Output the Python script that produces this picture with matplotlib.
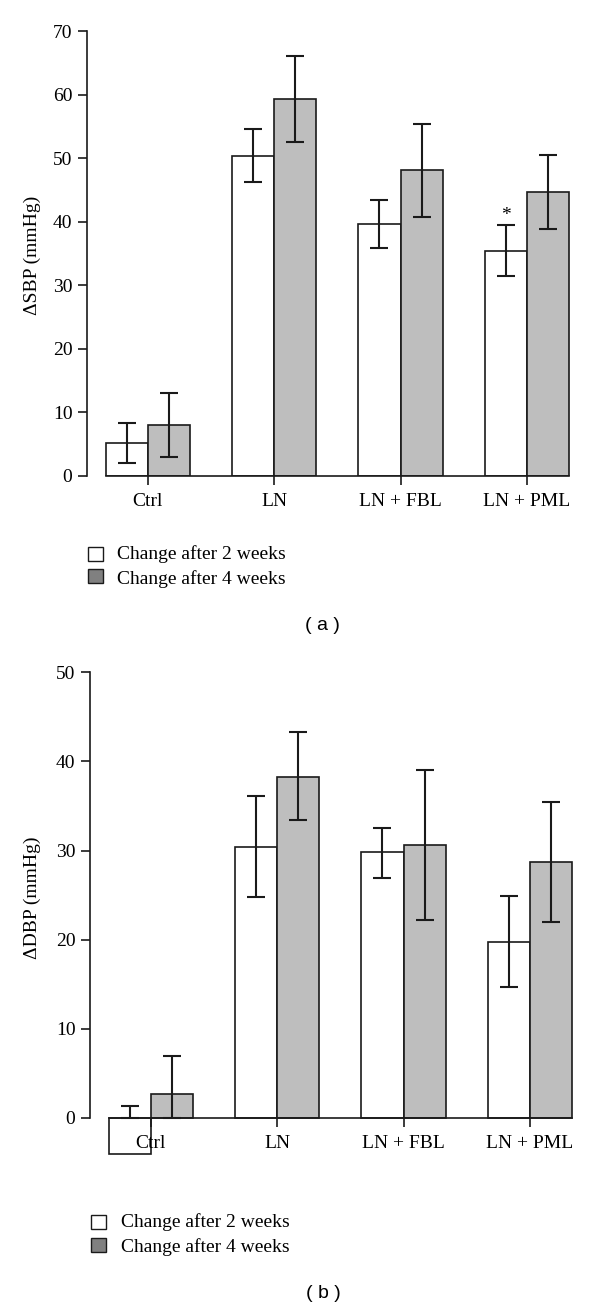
import matplotlib
matplotlib.use("Agg")
import matplotlib.pyplot as plt
from matplotlib.patches import Rectangle
import numpy as np

categories = ["Ctrl", "LN", "LN + FBL", "LN + PML"]
series_labels = ["Change after 2 weeks", "Change after 4 weeks"]

# Panel (a): change in SBP
a_2w = [5.2, 50.4, 39.6, 35.4]
a_2w_hi = [8.3, 54.6, 43.4, 39.5]
a_2w_lo = [2.1, 46.3, 35.8, 31.4]
a_4w = [8.0, 59.3, 48.1, 44.7]
a_4w_hi = [13.1, 66.0, 55.4, 50.5]
a_4w_lo = [3.0, 52.5, 40.8, 38.9]
a_yticks = [0, 10, 20, 30, 40, 50, 60, 70]

# Panel (b): change in DBP
b_2w = [-4.0, 30.4, 29.8, 19.8]
b_2w_hi = [1.3, 36.1, 32.5, 24.9]
b_2w_lo = [0.0, 24.8, 26.9, 14.7]
b_4w = [2.7, 38.3, 30.6, 28.7]
b_4w_hi = [6.9, 43.3, 39.0, 35.4]
b_4w_lo = [0.0, 33.4, 22.2, 22.0]
b_yticks = [0, 10, 20, 30, 40, 50]

SERIF = "Liberation Serif"
SANS = "Liberation Sans"
FS = 14
W, H = 600, 1312
BAR_C = ["white", "#bebebe"]
LEG_C = ["white", "#808080"]
LINE = "#1a1a1a"

fig = plt.figure(figsize=(W / 100, H / 100), dpi=100)
plt.rcParams["font.family"] = SERIF


def panel(rect, vals2, hi2, lo2, vals4, hi4, lo4, yticks, ylim, ylabel, ylab_y):
    ax = fig.add_axes(rect)
    x = np.arange(len(categories))
    w = 1 / 3
    for xs, vals, hi, lo, c in [(x - w / 2, vals2, hi2, lo2, BAR_C[0]),
                                (x + w / 2, vals4, hi4, lo4, BAR_C[1])]:
        ax.bar(xs, vals, width=w, color=c, edgecolor=LINE, linewidth=1.2, zorder=2)
        hi = np.array(hi); lo = np.array(lo)
        ax.errorbar(xs, (hi + lo) / 2, yerr=(hi - lo) / 2, fmt="none",
                    ecolor=LINE, elinewidth=1.5, capsize=6.3, capthick=1.5, zorder=3)
    ax.set_xlim(-0.48, 3.34)
    ax.set_ylim(*ylim)
    for s in ["top", "right"]:
        ax.spines[s].set_visible(False)
    ax.spines["left"].set_bounds(yticks[0], yticks[-1])
    ax.spines["bottom"].set_position(("data", 0))
    ax.spines["bottom"].set_bounds(-1 / 3, 3 + 1 / 3)
    for s in ["left", "bottom"]:
        ax.spines[s].set_linewidth(1.2)
        ax.spines[s].set_color(LINE)
        ax.spines[s].set_zorder(4)
    ax.set_yticks(yticks)
    ax.set_yticklabels([str(t) for t in yticks], fontsize=FS, family=SERIF)
    ax.set_xticks(x)
    ax.set_xticklabels(categories, fontsize=FS, family=SERIF)
    ax.tick_params(axis="y", length=6.5, width=1.2, pad=4, color=LINE)
    ax.tick_params(axis="x", length=6.3, width=1.2, pad=6, color=LINE)
    ax.xaxis.set_zorder(5)
    fig.text(32 / W, ylab_y, ylabel, rotation=90, ha="center", va="center",
             fontsize=FS, family=SERIF)
    ax.patch.set_visible(False)
    return ax


# Panel a: y-axis x=87, 0 at y=476, 70 at y=31
ax_a = panel([87 / W, 1 - 476 / H, 483 / W, (476 - 31) / H],
             a_2w, a_2w_hi, a_2w_lo, a_4w, a_4w_hi, a_4w_lo,
             a_yticks, (0, 70), "\u0394SBP (mmHg)", 1 - 255 / H)
ax_a.annotate("*", xy=(3 - 1 / 6, a_2w_hi[3]), xytext=(0, 0.5),
              textcoords="offset points", ha="center", va="bottom", fontsize=FS)

# Panel b: y-axis x=90, 50 at y=672.3, 0 at y=1118
ppu_b = (1118 - 672.3) / 50
bot_b = 1118 + 5 * ppu_b
ax_b = panel([90 / W, 1 - bot_b / H, 483 / W, (bot_b - 672.3) / H],
             b_2w, b_2w_hi, b_2w_lo, b_4w, b_4w_hi, b_4w_lo,
             b_yticks, (-5, 50), "\u0394DBP (mmHg)", 1 - 898 / H)


def legend(x0, ys, xt, baselines):
    for lab, c, y, bl in zip(series_labels, LEG_C, ys, baselines):
        fig.add_artist(Rectangle((x0 / W, 1 - (y + 14) / H), 15 / W, 14 / H,
                                 transform=fig.transFigure, facecolor=c,
                                 edgecolor=LINE, linewidth=1.0))
        fig.text(xt / W, 1 - bl / H, lab, ha="left", va="baseline",
                 fontsize=FS, family=SERIF)


legend(88, [547, 569], 117, [559.3, 584.3])
legend(91, [1215, 1238], 121, [1227.3, 1252.3])

fig.text(322 / W, 1 - 626 / H, "( a )", ha="center", va="center", fontsize=14, family=SANS)
fig.text(323 / W, 1 - 1293 / H, "( b )", ha="center", va="center", fontsize=14, family=SANS)

fig.savefig("out.png", dpi=100, facecolor="white")
